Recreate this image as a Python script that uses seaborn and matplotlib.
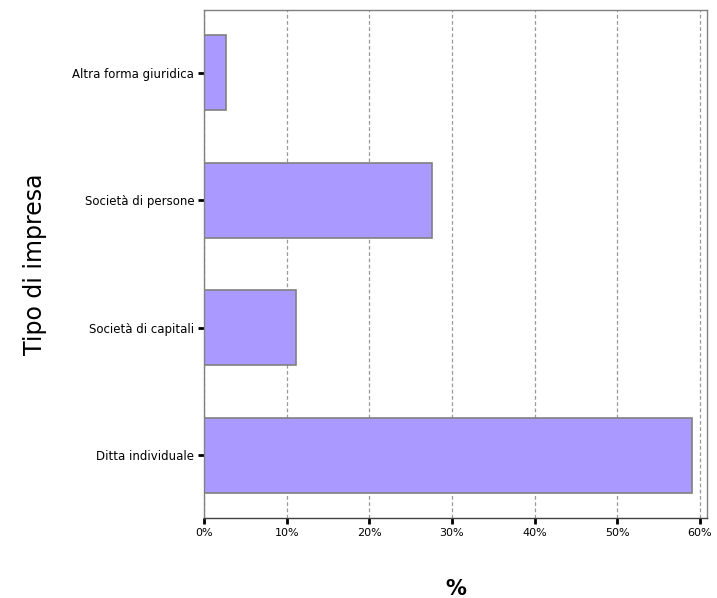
import pandas as pd
import matplotlib
matplotlib.use("Agg")
import matplotlib.pyplot as plt
import seaborn as sns

# data
categorie = ["Altra forma giuridica", "Società di persone", "Società di capitali", "Ditta individuale"]
percentuali = [2.7, 27.6, 11.1, 59.1]
tick_valori = [0, 10, 20, 30, 40, 50, 60]
tick_etichette = ["0%", "10%", "20%", "30%", "40%", "50%", "60%"]

df = pd.DataFrame({"tipo": categorie, "perc": percentuali})

sns.set_style("white")
plt.rcParams["font.family"] = ["DejaVu Sans"]

fig = plt.figure(figsize=(7.17, 5.98), dpi=100)
ax = fig.add_axes([0.2845, 0.1338, 0.7015, 0.8495])

sns.barplot(data=df, x="perc", y="tipo", order=categorie, color="#aa99ff",
            saturation=1, width=0.59, edgecolor="#808080", linewidth=1.2, ax=ax)

ax.set_xlim(0, 60.85)
ax.set_ylim(3.49, -0.49)
ax.set_xticks(tick_valori)
ax.set_xticklabels(tick_etichette, fontsize=8, color="black")
ax.tick_params(axis="y", labelsize=8.5, labelcolor="black")
ax.tick_params(axis="both", direction="out", length=4, width=2, color="black",
               bottom=True, left=True, pad=3)
ax.xaxis.grid(True, linestyle=(0, (3, 2)), color="#999999", linewidth=0.9)
ax.set_axisbelow(True)

for s in ax.spines.values():
    s.set_color("#808080")
    s.set_linewidth(1)
ax.spines["bottom"].set_color("#404040")

ax.set_ylabel("Tipo di impresa", fontsize=17, labelpad=18, color="black")
ax.set_xlabel("%", fontsize=15, fontweight="bold", labelpad=30, color="black")

fig.savefig("out.png", dpi=100)
